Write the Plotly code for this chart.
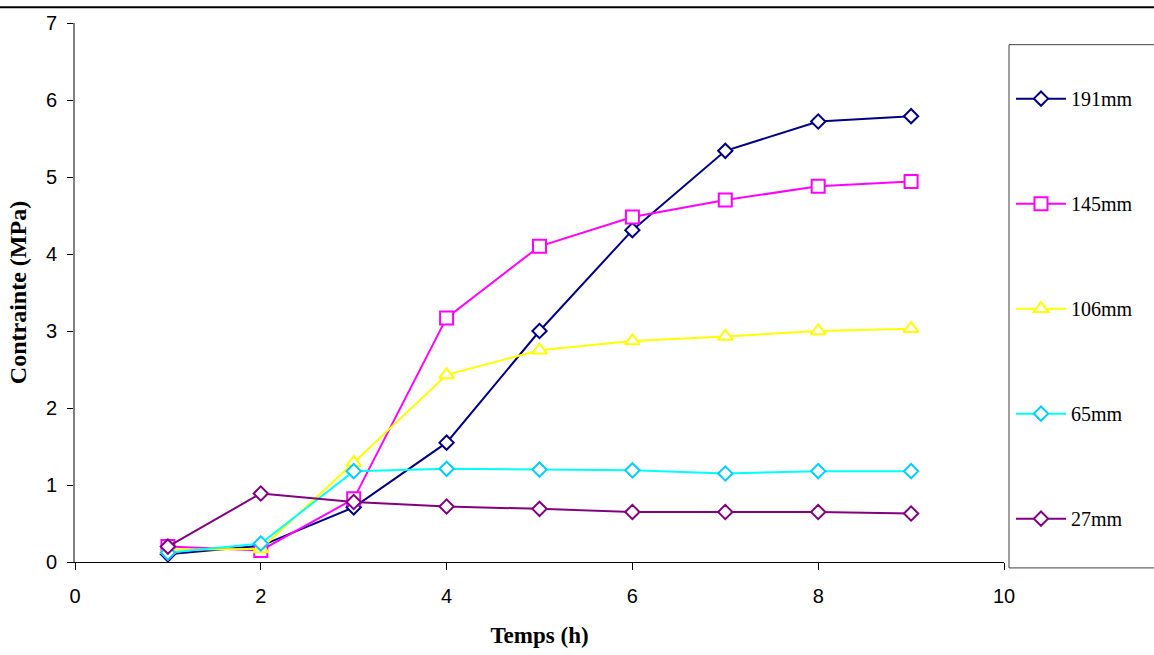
import plotly.graph_objects as go

temps = [1, 2, 3, 4, 5, 6, 7, 8, 9]
s191 = [0.10, 0.21, 0.71, 1.55, 3.00, 4.31, 5.34, 5.72, 5.79]
s145 = [0.20, 0.15, 0.82, 3.17, 4.10, 4.48, 4.70, 4.88, 4.94]
s106 = [0.16, 0.17, 1.29, 2.43, 2.75, 2.87, 2.93, 3.00, 3.03]
s65 = [0.12, 0.24, 1.18, 1.21, 1.20, 1.19, 1.15, 1.18, 1.18]
s27 = [0.20, 0.89, 0.78, 0.72, 0.69, 0.65, 0.65, 0.65, 0.63]

series = [
    ("191mm", s191, "#000080", "#000080", "diamond", 11),
    ("145mm", s145, "#FF00FF", "#FF00FF", "square", 13),
    ("106mm", s106, "#FFFF00", "#FFFF00", "triangle-up", 13),
    ("65mm", s65, "#00FFFF", "#00CCFF", "diamond", 11),
    ("27mm", s27, "#800080", "#800080", "diamond", 11),
]

W, H = 1154, 655
L, R, T, B = 75, 150, 17, 91
pw, ph = W - L - R, H - T - B

def px_x(p):
    return (p - L) / pw

def px_y(p):
    return (H - B - p) / ph

fig = go.Figure()
for i, (name, ys, lc, mc, sym, sz) in enumerate(series):
    fig.add_trace(go.Scatter(
        x=temps, y=ys, name=name, mode="lines+markers",
        legendgroup=f"g{i}",
        line=dict(color=lc, width=2),
        marker=dict(symbol=sym, size=sz, color="white",
                    line=dict(color=mc, width=2)),
    ))

fig.update_layout(
    width=W, height=H, autosize=False,
    margin=dict(l=L, r=R, t=T, b=B),
    paper_bgcolor="white", plot_bgcolor="white",
    showlegend=True,
    legend=dict(
        x=px_x(1011), y=px_y(74), xanchor="left", yanchor="top",
        font=dict(family="Liberation Serif", size=20, color="black"),
        tracegroupgap=76, itemwidth=50, bgcolor="rgba(0,0,0,0)",
        borderwidth=0,
    ),
    xaxis=dict(
        range=[0, 10], tickmode="linear", tick0=0, dtick=2,
        showgrid=False, zeroline=False, showline=True,
        linecolor="black", linewidth=1,
        ticks="outside", ticklen=7, tickcolor="black",
        ticklabelstandoff=9,
        tickfont=dict(family="Liberation Sans", size=20, color="black"),
        title=dict(text="<b>Temps (h)</b>", standoff=20,
                   font=dict(family="Liberation Serif", size=23, color="black")),
    ),
    yaxis=dict(
        range=[0, 7], tickmode="linear", tick0=0, dtick=1,
        showgrid=False, zeroline=False, showline=True,
        linecolor="#808080", linewidth=2,
        ticks="outside", ticklen=6, tickcolor="black",
        ticklabelstandoff=6,
        tickfont=dict(family="Liberation Sans", size=20, color="black"),
        title=dict(text="<b>Contrainte (MPa)</b>", standoff=12,
                   font=dict(family="Liberation Serif", size=24, color="black")),
    ),
    shapes=[
        dict(type="rect", xref="paper", yref="paper",
             x0=px_x(1009), x1=px_x(W + 2), y0=px_y(570), y1=px_y(39),
             line=dict(color="#404040", width=1), fillcolor="rgba(0,0,0,0)"),
        dict(type="rect", xref="paper", yref="paper",
             x0=px_x(0), x1=px_x(W), y0=px_y(2), y1=px_y(0),
             line=dict(width=0), fillcolor="black"),
    ],
)

fig.write_html(
    "out.html",
    config={"displayModeBar": False},
    post_script=(
        "document.documentElement.style.margin='0';"
        "document.documentElement.style.overflow='hidden';"
        "document.body.style.margin='0';document.body.style.overflow='hidden';"
        "var gd=document.getElementById('{plot_id}');"
        "gd.style.position='fixed';gd.style.top='0px';gd.style.left='0px';"
    ),
)
